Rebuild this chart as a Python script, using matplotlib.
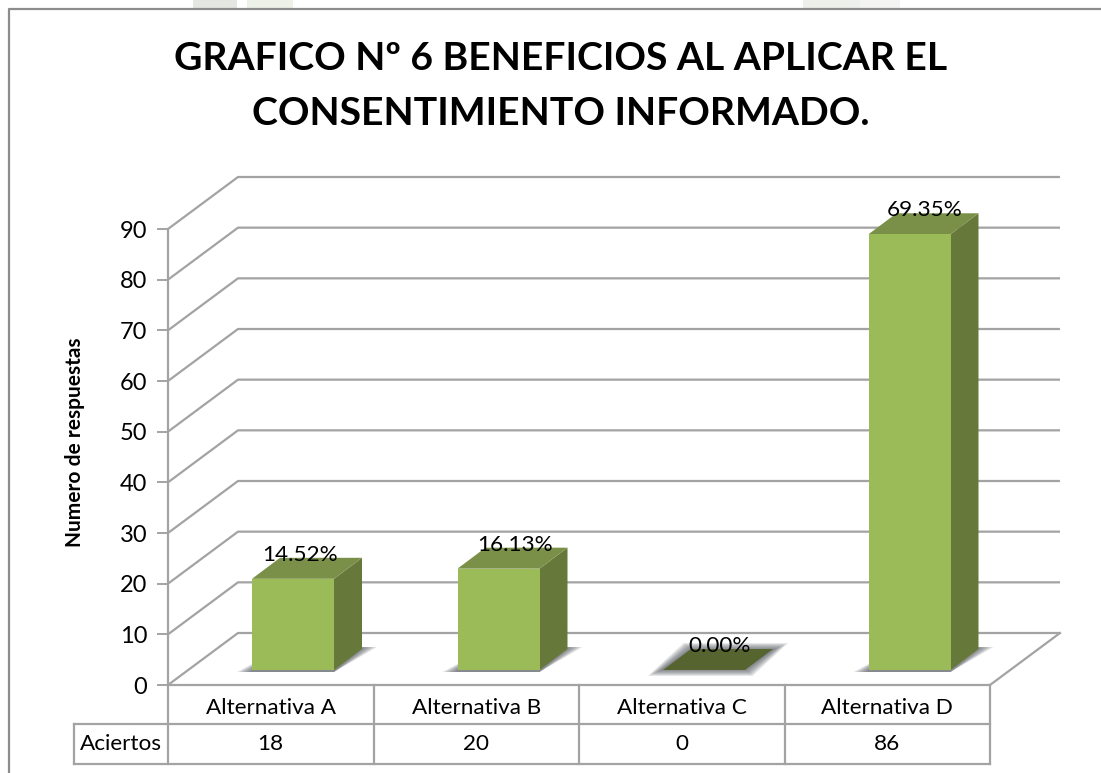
import matplotlib
matplotlib.use("Agg")
import matplotlib.pyplot as plt
from matplotlib.patches import Polygon, Rectangle

categories = ["Alternativa A", "Alternativa B", "Alternativa C", "Alternativa D"]
aciertos = [18, 20, 0, 86]
percent_labels = ["14.52%", "16.13%", "0.00%", "69.35%"]
y_ticks = [0, 10, 20, 30, 40, 50, 60, 70, 80, 90]
title = "GRAFICO Nº 6 BENEFICIOS AL APLICAR EL\nCONSENTIMIENTO INFORMADO."
y_label = "Numero de respuestas"
row_label = "Aciertos"

W, H = 1101, 773
plt.rcParams["font.family"] = ["Lato", "DejaVu Sans"]
fig = plt.figure(figsize=(W / 100, H / 100), dpi=100, facecolor="white")

# faint page watermark showing above the chart frame
for x0_, x1_, c_ in [(193, 237, "#e3e6e1"), (247, 293, "#eef1e8"), (803, 860, "#edf0ea"), (860, 900, "#f3f4f2")]:
    fig.add_artist(Rectangle((x0_ / W, 1 - 8 / H), (x1_ - x0_) / W, 8 / H, fc=c_, ec="none",
                             transform=fig.transFigure))

# axes spans the front face of the 3D box
L, R, T, B = 168, 990, 229, 685
ax = fig.add_axes([L / W, 1 - B / H, (R - L) / W, (B - T) / H])
ax.set_xlim(0, 4)
ax.set_ylim(0, 90)
ax.patch.set_visible(False)
for s in ax.spines.values():
    s.set_visible(False)

GRID = "#a3a3a3"
LW = 1.6
px_x = 4 / (R - L)            # data per pixel
px_y = 90 / (B - T)
DX, DY = 70 * px_x, 52 * px_y  # wall depth
dx, dy = 28 * px_x, 21 * px_y  # bar depth
OX, OY = 20 * px_x, 15 * px_y  # bar front offset above floor front edge
BW = 82 * px_x                 # bar width
GAP = 64 * px_x                # bar left from slot left
label_nudge_px = [-6, 4, 3, 2]

# walls
for v in y_ticks:
    ax.plot([0, DX, 4 + DX], [v, v + DY, v + DY], color=GRID, lw=LW, clip_on=False,
            solid_capstyle="butt", zorder=1)
ax.plot([0, 0], [0, 90], color=GRID, lw=LW, clip_on=False, zorder=1)
ax.plot([0, 4, 4 + DX], [0, 0, DY], color=GRID, lw=LW, clip_on=False, zorder=1)

ax.set_yticks(y_ticks)
ax.set_xticks([])
ax.tick_params(axis="y", length=8, width=1.4, color=GRID, pad=7, labelsize=17, labelcolor="black")
ax.set_ylabel(y_label, fontsize=15, fontweight="bold")
ax.yaxis.set_label_coords((85 - L) / (R - L), (B - 442) / (B - T))

FRONT, SIDE, TOP, FLAT = "#9bbb59", "#67793a", "#7a9048", "#566530"
for i, (v, lab) in enumerate(zip(aciertos, percent_labels)):
    x0 = i + OX + GAP
    x1 = x0 + BW
    y0 = OY
    y1 = OY + v
    # soft shadow on the floor
    for k in range(7):
        g = k * 2.1
        grow = (15 - g) * px_x
        if v > 0:
            pts = [(x0 - grow, y0 - 2 * px_y), (x1, y0 - 2 * px_y),
                   (x1 + dx + grow, y0 + dy + 2 * px_y), (x0 + dx, y0 + dy)]
        else:
            pad = (6 - k) * px_y
            pts = [(x0 - grow, y0 - pad), (x1 + grow / 2, y0 - pad),
                   (x1 + dx + grow, y0 + dy + pad), (x0 + dx - grow / 2, y0 + dy + pad)]
        ax.add_patch(Polygon(pts, closed=True, fc="#4a4f55", ec="none", alpha=0.14, zorder=2, clip_on=False))
    if v > 0:
        ax.add_patch(Polygon([(x1, y0), (x1 + dx, y0 + dy), (x1 + dx, y1 + dy), (x1, y1)],
                             fc=SIDE, ec="none", zorder=3, clip_on=False))
        ax.add_patch(Polygon([(x0, y1), (x1, y1), (x1 + dx, y1 + dy), (x0 + dx, y1 + dy)],
                             fc=TOP, ec="none", zorder=3, clip_on=False))
        ax.add_patch(Polygon([(x0, y0), (x1, y0), (x1, y1), (x0, y1)],
                             fc=FRONT, ec="none", zorder=4, clip_on=False))
    else:
        ax.add_patch(Polygon([(x0, y1), (x1, y1), (x1 + dx, y1 + dy), (x0 + dx, y1 + dy)],
                             fc=FLAT, ec="none", zorder=3, clip_on=False))
    ax.text((x0 + x1 + dx) / 2 + (label_nudge_px[i] - 1) * px_x, y1 + dy + 3 * px_y, lab,
            ha="center", va="center", fontsize=16.2, color="black", zorder=6, clip_on=False)

# data table, in slot coordinates below the axis
ROW1, ROW2 = -39 * px_y, -79 * px_y
HEAD = -94 * px_x
tk = dict(color=GRID, lw=LW, clip_on=False, solid_capstyle="projecting", zorder=1)
for i in range(5):
    ax.plot([i, i], [0, ROW2], **tk)
ax.plot([HEAD, 4], [ROW1, ROW1], **tk)
ax.plot([HEAD, 4], [ROW2, ROW2], **tk)
ax.plot([HEAD, HEAD], [ROW1, ROW2], **tk)
for i, (c, v) in enumerate(zip(categories, aciertos)):
    ax.text(i + 0.5, ROW1 / 2 - 0.6, c, ha="center", va="center", fontsize=16.2, clip_on=False)
    ax.text(i + 0.5, (ROW1 + ROW2) / 2, str(v), ha="center", va="center", fontsize=16.2, clip_on=False)
ax.text(HEAD / 2, (ROW1 + ROW2) / 2, row_label, ha="center", va="center", fontsize=16.2, clip_on=False)

# chart frame: top and left edges
fig.add_artist(plt.Line2D([9 / W, 9 / W, 1], [0, 1 - 9 / H, 1 - 9 / H],
                          color="#8c8c8c", lw=1.6))

fig.text(561 / W, 1 - 86 / H, title, ha="center", va="center", fontsize=28.2, fontweight="bold",
         linespacing=1.7, color="black")

fig.savefig("out.png", dpi=100)
